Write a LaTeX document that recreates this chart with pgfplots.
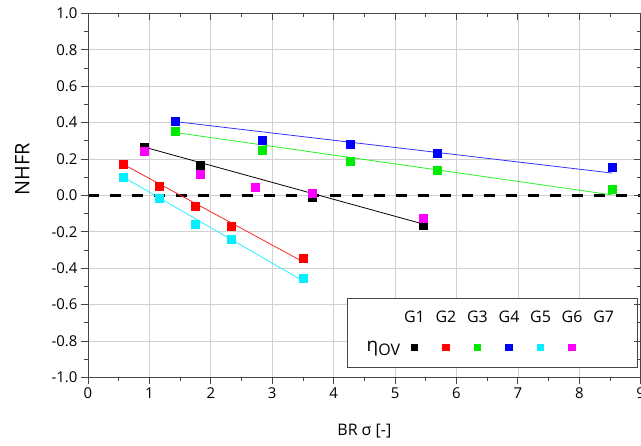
\documentclass[border=0pt]{standalone}
\usepackage{pgfplots}
\pgfplotsset{compat=1.18}
\usepackage{fontspec}
\setmainfont{Open Sans}

\definecolor{cG1}{RGB}{0,0,0}
\definecolor{cG2}{RGB}{255,0,0}
\definecolor{cG3}{RGB}{0,235,0}
\definecolor{cG4}{RGB}{0,0,255}
\definecolor{cG5}{RGB}{0,240,255}
\definecolor{cG6}{RGB}{255,0,255}
\definecolor{axgray}{RGB}{70,70,70}

\pgfplotsset{
  frame/.style={
    width=552.7bp, height=364bp, scale only axis,
    xmin=0, xmax=9, ymin=-1, ymax=1,
    xtick={0,1,2,3,4,5,6,7,8,9},
    ytick={-1,-0.8,-0.6,-0.4,-0.2,0,0.2,0.4,0.6,0.8,1},
    minor x tick num=1, minor y tick num=1,
    axis line style={draw=axgray, line width=0.8pt},
    major tick length=7bp, minor tick length=3.5bp,
    every tick/.style={axgray, line width=0.8pt},
  },
  mk/.style={only marks, mark=square*, mark size=4bp, mark options={draw=#1, fill=#1}},
  fit/.style={no marks, line width=0.8pt, draw=#1},
}

\newcommand{\legsq}[1]{\textcolor{#1}{\rule{7.5bp}{7.5bp}}}

\begin{document}
\begin{tikzpicture}
\begin{axis}[
  frame, name=ax,
  tick pos=left, tick align=outside,
  grid=major, grid style={draw=black!18, line width=0.7pt},
  /pgf/number format/assume math mode=true,
  ticklabel style={font=\fontsize{15}{15}\selectfont},
  yticklabel style={/pgf/number format/.cd, fixed, fixed zerofill, precision=1},
  xticklabel style={/pgf/number format/.cd, fixed, precision=0},
  xlabel={BR σ [-]},
  xlabel style={at={(rel axis cs:0.5,-0.147)}, anchor=center, font=\fontsize{16}{16}\selectfont},
  ylabel={NHFR},
  ylabel style={at={(rel axis cs:-0.119,0.572)}, anchor=center, font=\fontsize{20}{20}\selectfont},
]
% zero reference
\addplot[no marks, black, line width=2.6pt, dash pattern=on 11bp off 11bp] coordinates {(0,0) (9,0)};

% linear trends
\addplot[fit=cG1] coordinates {(0.914,0.265) (5.46,-0.158)};
\addplot[fit=cG2!85] coordinates {(0.576,0.170) (3.50,-0.365)};
\addplot[fit=cG3!85] coordinates {(1.42,0.345) (8.54,0.002)};
\addplot[fit=cG4!80] coordinates {(1.42,0.405) (8.54,0.122)};
\addplot[fit=cG5!85] coordinates {(0.576,0.100) (3.50,-0.470)};

% measured values
\addplot[mk=cG1] coordinates {(0.914,0.267) (1.82,0.167) (3.65,-0.008) (5.46,-0.167)};
\addplot[mk=cG2] coordinates {(0.576,0.172) (1.16,0.051) (1.75,-0.059) (2.33,-0.169) (3.50,-0.343)};
\addplot[mk=cG3] coordinates {(1.42,0.350) (2.84,0.249) (4.27,0.185) (5.69,0.139) (8.54,0.033)};
\addplot[mk=cG4] coordinates {(1.42,0.408) (2.84,0.304) (4.27,0.282) (5.69,0.229) (8.54,0.154)};
\addplot[mk=cG5] coordinates {(0.576,0.102) (1.16,-0.018) (1.75,-0.158) (2.33,-0.242) (3.50,-0.453)};
\addplot[mk=cG6] coordinates {(0.914,0.245) (1.82,0.117) (2.73,0.044) (3.65,0.014) (5.46,-0.127)};

% legend
\draw[draw=axgray, fill=white, line width=0.8pt] (axis cs:4.23,-0.566) rectangle (axis cs:8.95,-0.945);
\begin{scope}[every node/.style={font=\fontsize{16}{16}\selectfont, inner sep=0pt, anchor=center}]
\node at (axis cs:5.315,-0.666) {G1};
\node at (axis cs:5.829,-0.666) {G2};
\node at (axis cs:6.342,-0.666) {G3};
\node at (axis cs:6.856,-0.666) {G4};
\node at (axis cs:7.370,-0.666) {G5};
\node at (axis cs:7.883,-0.666) {G6};
\node at (axis cs:8.397,-0.666) {G7};
\node at (axis cs:5.315,-0.837) {\legsq{cG1}};
\node at (axis cs:5.829,-0.837) {\legsq{cG2}};
\node at (axis cs:6.342,-0.837) {\legsq{cG3}};
\node at (axis cs:6.856,-0.837) {\legsq{cG4}};
\node at (axis cs:7.370,-0.837) {\legsq{cG5}};
\node at (axis cs:7.883,-0.837) {\legsq{cG6}};
\node[anchor=base] at (axis cs:4.81,-0.857) {{\fontsize{19}{19}\selectfont η}\raisebox{-4bp}{OV}};
\end{scope}
\end{axis}

% mirrored ticks on top and right
\begin{axis}[
  frame,
  tick pos=right, tick align=inside,
  xticklabels={}, yticklabels={},
]
\end{axis}

\pgfresetboundingbox
\path[use as bounding box] ([xshift=-88bp,yshift=-68.7bp]ax.south west) rectangle ([xshift=0.3bp,yshift=13.3bp]ax.north east);
\end{tikzpicture}
\end{document}
